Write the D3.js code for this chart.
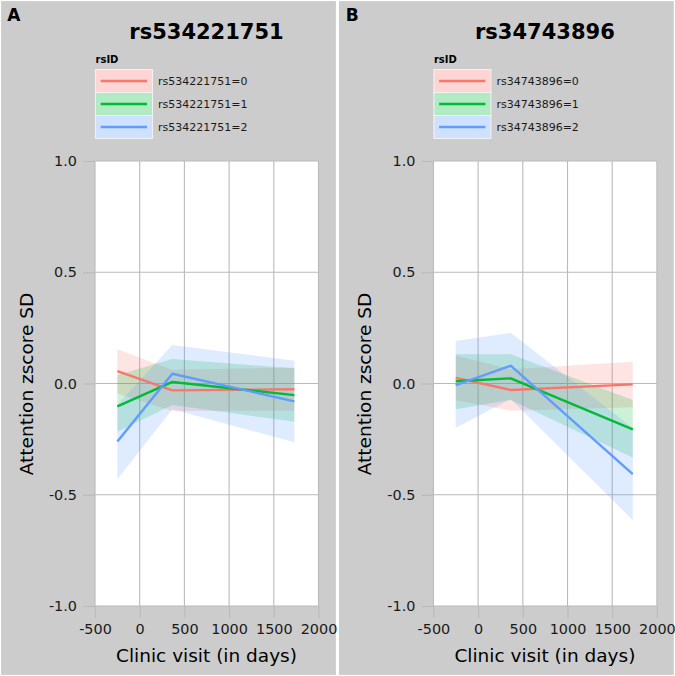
<!DOCTYPE html>
<html><head><meta charset="utf-8">
<script src="https://cdn.jsdelivr.net/npm/d3@7"></script>
<style>html,body{margin:0;padding:0;background:#fff}svg{display:block}</style>
</head><body>
<svg id="chart" width="675" height="676"></svg>
<script>
// ---- data ----
const visitDays = [-250, 365, 1730];
const xTicks = [-500, 0, 500, 1000, 1500, 2000];
const xTickLabels = ["-500", "0", "500", "1000", "1500", "2000"];
const yTicks = [-1, -0.5, 0, 0.5, 1];
const yTickLabels = ["-1.0", "-0.5", "0.0", "0.5", "1.0"];
const genotypes = ["0", "1", "2"];
const seriesColors = ["#F8766D", "#00BA38", "#619CFF"];
const panelLetters = ["A", "B"];
const snps = ["rs534221751", "rs34743896"];

// Panel A (rs534221751)
const meanA0 = [0.056, -0.031, -0.026];
const meanA1 = [-0.103, 0.007, -0.052];
const meanA2 = [-0.261, 0.044, -0.080];
const lowA0 = [-0.045, -0.124, -0.122], highA0 = [0.154, 0.062, 0.071];
const lowA1 = [-0.217, -0.097, -0.172], highA1 = [0.038, 0.110, 0.068];
const lowA2 = [-0.430, -0.116, -0.264], highA2 = [-0.095, 0.173, 0.102];

// Panel B (rs34743896)
const meanB0 = [0.025, -0.029, -0.004];
const meanB1 = [0.010, 0.023, -0.206];
const meanB2 = [-0.007, 0.080, -0.407];
const lowB0 = [-0.075, -0.122, -0.107], highB0 = [0.125, 0.064, 0.098];
const lowB1 = [-0.116, -0.074, -0.333], highB1 = [0.131, 0.131, -0.074];
const lowB2 = [-0.199, -0.070, -0.614], highB2 = [0.191, 0.228, -0.200];

const panelSeries = [
  [{mean: meanA0, low: lowA0, high: highA0}, {mean: meanA1, low: lowA1, high: highA1}, {mean: meanA2, low: lowA2, high: highA2}],
  [{mean: meanB0, low: lowB0, high: highB0}, {mean: meanB1, low: lowB1, high: highB1}, {mean: meanB2, low: lowB2, high: highB2}]
];

// ---- drawing ----
const svg = d3.select("#chart");
const FONT = "DejaVu Sans, sans-serif";
const bg = "#cccccc";
const gridCol = "#bababa";
const panelOffsets = [0, 338.4];

panelOffsets.forEach((off, p) => {
  const g = svg.append("g").attr("transform", `translate(${off},0)`);
  g.append("rect").attr("x", p === 0 ? 0.5 : 0).attr("y", 0.5)
    .attr("width", 336).attr("height", 675)
    .attr("fill", bg).attr("stroke", "#fff").attr("stroke-width", 1.2);

  const x = d3.scaleLinear().domain([-500, 2000]).range([95, 318.5]);
  const y = d3.scaleLinear().domain([-1, 1]).range([606, 161]);

  g.append("rect").attr("x", x(-500)).attr("y", y(1))
    .attr("width", x(2000) - x(-500)).attr("height", y(-1) - y(1)).attr("fill", "#fff");

  g.append("g").selectAll("line").data(xTicks).join("line")
    .attr("x1", d => x(d)).attr("x2", d => x(d)).attr("y1", y(1)).attr("y2", y(-1))
    .attr("stroke", gridCol).attr("stroke-width", 1.1);
  g.append("g").selectAll("line").data(yTicks).join("line")
    .attr("x1", x(-500)).attr("x2", x(2000)).attr("y1", d => y(d)).attr("y2", d => y(d))
    .attr("stroke", gridCol).attr("stroke-width", 1.1);

  const ax = g.append("g").attr("transform", `translate(0,${y(-1)})`)
    .call(d3.axisBottom(x).tickValues(xTicks).tickFormat((d, i) => xTickLabels[i]).tickSize(12).tickPadding(5.8));
  const ay = g.append("g").attr("transform", `translate(${x(-500)},0)`)
    .call(d3.axisLeft(y).tickValues(yTicks).tickFormat((d, i) => yTickLabels[i]).tickSize(12).tickPadding(6));
  [ax, ay].forEach(a => {
    a.select(".domain").remove();
    a.selectAll(".tick line").attr("stroke", gridCol).attr("stroke-width", 1.1);
    a.selectAll(".tick text").attr("font-family", FONT).attr("font-size", 14.4).attr("fill", "#1a1a1a");
  });

  const area = d3.area().x((d, i) => x(visitDays[i])).y0(d => y(d[0])).y1(d => y(d[1]));
  const line = d3.line().x((d, i) => x(visitDays[i])).y(d => y(d));
  panelSeries[p].forEach((s, k) => {
    g.append("path").datum(s.low.map((v, i) => [v, s.high[i]]))
      .attr("d", area).attr("fill", seriesColors[k]).attr("fill-opacity", 0.2);
  });
  panelSeries[p].forEach((s, k) => {
    g.append("path").datum(s.mean).attr("d", line).attr("fill", "none")
      .attr("stroke", seriesColors[k]).attr("stroke-width", 2.4).attr("stroke-linejoin", "round");
  });

  g.append("text").attr("x", 7.3).attr("y", 20.7).text(panelLetters[p])
    .attr("font-family", FONT).attr("font-weight", "bold").attr("font-size", 17).attr("fill", "#000");
  g.append("text").attr("x", 206.5).attr("y", 39).attr("text-anchor", "middle").text(snps[p])
    .attr("font-family", FONT).attr("font-weight", "bold").attr("font-size", 21).attr("fill", "#000");
  g.append("text").attr("x", 206.5).attr("y", 662).attr("text-anchor", "middle").text("Clinic visit (in days)")
    .attr("font-family", FONT).attr("font-size", 18.5).attr("fill", "#000");
  g.append("text").attr("transform", "translate(33,384) rotate(-90)").attr("text-anchor", "middle")
    .text("Attention zscore SD").attr("font-family", FONT).attr("font-size", 18.5).attr("fill", "#000");

  const lg = g.append("g");
  lg.append("text").attr("x", 95.5).attr("y", 63.3).text("rsID")
    .attr("font-family", FONT).attr("font-weight", "bold").attr("font-size", 10).attr("fill", "#000");
  genotypes.forEach((gt, k) => {
    const top = 69.5 + k * 23;
    lg.append("rect").attr("x", 95.5).attr("y", top).attr("width", 57).attr("height", 23)
      .attr("fill", "#fff").attr("stroke", "#f2f2f2").attr("stroke-width", 1);
    lg.append("rect").attr("x", 96).attr("y", top + 0.5).attr("width", 56).attr("height", 22)
      .attr("fill", seriesColors[k]).attr("fill-opacity", 0.3);
    lg.append("line").attr("x1", 100.7).attr("x2", 147).attr("y1", top + 11.5).attr("y2", top + 11.5)
      .attr("stroke", seriesColors[k]).attr("stroke-width", 2.4);
    lg.append("text").attr("x", 158).attr("y", top + 11.5).attr("dy", "0.35em")
      .text(`${snps[p]}=${gt}`).attr("font-family", FONT).attr("font-size", 11).attr("fill", "#1a1a1a");
  });
});
</script>
</body></html>
